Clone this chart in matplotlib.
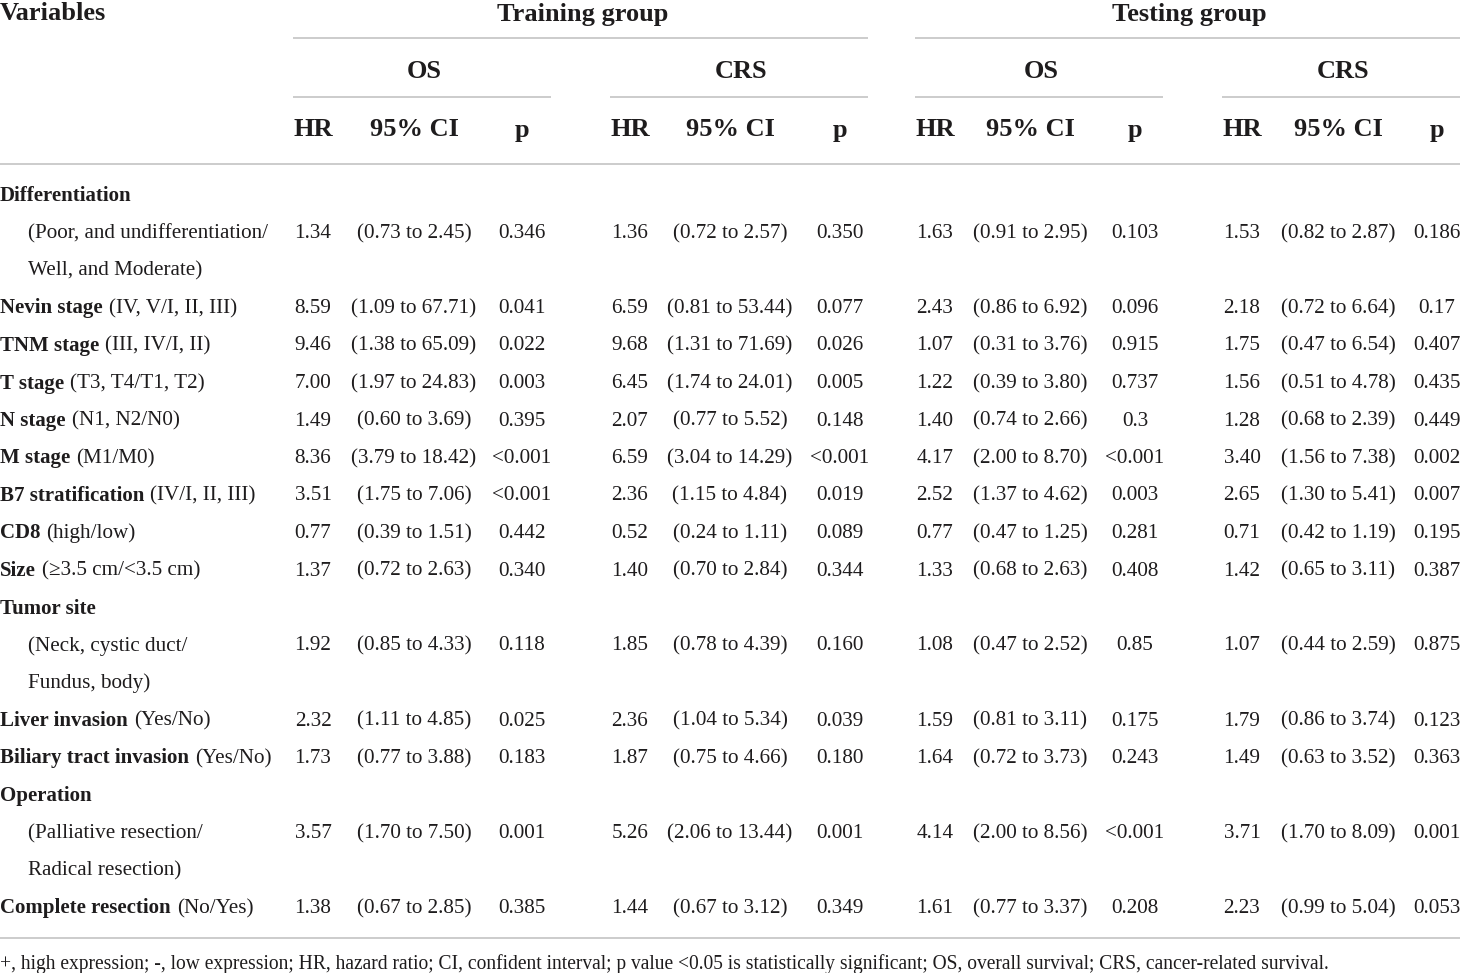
import numpy as np
import matplotlib
matplotlib.use("Agg")
import matplotlib.pyplot as plt

# ---------------- data ----------------
groups = ["Training group", "Testing group"]
outcomes = ["OS", "CRS", "OS", "CRS"]
sub_headers = ["HR", "95% CI", "p"]

# variable label rows: (bold part, normal part, indent)
label_rows = [
    ("Differentiation", "", 0),
    ("", "(Poor, and undifferentiation/", 1),
    ("", "Well, and Moderate)", 1),
    ("Nevin stage", "(IV, V/I, II, III)", 0),
    ("TNM stage", "(III, IV/I, II)", 0),
    ("T stage", "(T3, T4/T1, T2)", 0),
    ("N stage", "(N1, N2/N0)", 0),
    ("M stage", "(M1/M0)", 0),
    ("B7 stratification", "(IV/I, II, III)", 0),
    ("CD8", "(high/low)", 0),
    ("Size", "(\u22653.5 cm/<3.5 cm)", 0),
    ("Tumor site", "", 0),
    ("", "(Neck, cystic duct/", 1),
    ("", "Fundus, body)", 1),
    ("Liver invasion", "(Yes/No)", 0),
    ("Biliary tract invasion", "(Yes/No)", 0),
    ("Operation", "", 0),
    ("", "(Palliative resection/", 1),
    ("", "Radical resection)", 1),
    ("Complete resection", "(No/Yes)", 0),
]

# which label row carries the numbers
value_row_idx = [1, 3, 4, 5, 6, 7, 8, 9, 10, 12, 14, 15, 17, 19]

hr = [
    ["1.34", "1.36", "1.63", "1.53"],
    ["8.59", "6.59", "2.43", "2.18"],
    ["9.46", "9.68", "1.07", "1.75"],
    ["7.00", "6.45", "1.22", "1.56"],
    ["1.49", "2.07", "1.40", "1.28"],
    ["8.36", "6.59", "4.17", "3.40"],
    ["3.51", "2.36", "2.52", "2.65"],
    ["0.77", "0.52", "0.77", "0.71"],
    ["1.37", "1.40", "1.33", "1.42"],
    ["1.92", "1.85", "1.08", "1.07"],
    ["2.32", "2.36", "1.59", "1.79"],
    ["1.73", "1.87", "1.64", "1.49"],
    ["3.57", "5.26", "4.14", "3.71"],
    ["1.38", "1.44", "1.61", "2.23"],
]
ci = [
    ["(0.73 to 2.45)", "(0.72 to 2.57)", "(0.91 to 2.95)", "(0.82 to 2.87)"],
    ["(1.09 to 67.71)", "(0.81 to 53.44)", "(0.86 to 6.92)", "(0.72 to 6.64)"],
    ["(1.38 to 65.09)", "(1.31 to 71.69)", "(0.31 to 3.76)", "(0.47 to 6.54)"],
    ["(1.97 to 24.83)", "(1.74 to 24.01)", "(0.39 to 3.80)", "(0.51 to 4.78)"],
    ["(0.60 to 3.69)", "(0.77 to 5.52)", "(0.74 to 2.66)", "(0.68 to 2.39)"],
    ["(3.79 to 18.42)", "(3.04 to 14.29)", "(2.00 to 8.70)", "(1.56 to 7.38)"],
    ["(1.75 to 7.06)", "(1.15 to 4.84)", "(1.37 to 4.62)", "(1.30 to 5.41)"],
    ["(0.39 to 1.51)", "(0.24 to 1.11)", "(0.47 to 1.25)", "(0.42 to 1.19)"],
    ["(0.72 to 2.63)", "(0.70 to 2.84)", "(0.68 to 2.63)", "(0.65 to 3.11)"],
    ["(0.85 to 4.33)", "(0.78 to 4.39)", "(0.47 to 2.52)", "(0.44 to 2.59)"],
    ["(1.11 to 4.85)", "(1.04 to 5.34)", "(0.81 to 3.11)", "(0.86 to 3.74)"],
    ["(0.77 to 3.88)", "(0.75 to 4.66)", "(0.72 to 3.73)", "(0.63 to 3.52)"],
    ["(1.70 to 7.50)", "(2.06 to 13.44)", "(2.00 to 8.56)", "(1.70 to 8.09)"],
    ["(0.67 to 2.85)", "(0.67 to 3.12)", "(0.77 to 3.37)", "(0.99 to 5.04)"],
]
pval = [
    ["0.346", "0.350", "0.103", "0.186"],
    ["0.041", "0.077", "0.096", "0.17"],
    ["0.022", "0.026", "0.915", "0.407"],
    ["0.003", "0.005", "0.737", "0.435"],
    ["0.395", "0.148", "0.3", "0.449"],
    ["<0.001", "<0.001", "<0.001", "0.002"],
    ["<0.001", "0.019", "0.003", "0.007"],
    ["0.442", "0.089", "0.281", "0.195"],
    ["0.340", "0.344", "0.408", "0.387"],
    ["0.118", "0.160", "0.85", "0.875"],
    ["0.025", "0.039", "0.175", "0.123"],
    ["0.183", "0.180", "0.243", "0.363"],
    ["0.001", "0.001", "<0.001", "0.001"],
    ["0.385", "0.349", "0.208", "0.053"],
]

footnote = ("+, high expression; -, low expression; HR, hazard ratio; CI, confident interval; "
            "p value <0.05 is statistically significant; OS, overall survival; CRS, cancer-related survival.")

# ---------------- layout ----------------
W, H = 1460, 973
txt = "#1e1c1d"
line_c = "#c4c4c4"
font = "Liberation Serif"
fs_head = 19
fs_body = 15.2
fs_label = 15

# column centres for HR / CI / p of each block
col_x = [(313, 414, 522), (630, 730, 840), (935, 1030, 1135), (1242, 1338, 1437)]
block_span = [(293, 551), (610, 868), (915, 1163), (1222, 1460)]
group_span = [(293, 868), (915, 1460)]

row_y0 = 196
row_h = 37.5

fig = plt.figure(figsize=(W / 100, H / 100), dpi=100)
ax = fig.add_axes([0, 0, 1, 1])
ax.set_xlim(0, W)
ax.set_ylim(H, 0)
ax.axis("off")

def hline(x0, x1, y):
    ax.plot([x0, x1], [y, y], color=line_c, lw=1.2, solid_capstyle="butt")

# header
ax.text(0, 14, "Variables", fontsize=fs_head, fontweight="bold", family=font,
        color=txt, ha="left", va="center")
for g, (a, b) in zip(groups, group_span):
    ax.text((a + b) / 2 + 2, 14, g, fontsize=fs_head, fontweight="bold", family=font,
            color=txt, ha="center", va="center")
    hline(a, b, 38)
for o, (a, b) in zip(outcomes, block_span):
    ax.text((a + b) / 2 + 2, 71, o, fontsize=fs_head, fontweight="bold", family=font,
            color=txt, ha="center", va="center")
    hline(a, b, 97)
for cx in col_x:
    for s, x in zip(sub_headers, cx):
        ax.text(x, 130, s, fontsize=fs_head, fontweight="bold", family=font,
                color=txt, ha="center", va="center")
hline(0, W, 164)

# variable labels
fig.canvas.draw()
renderer = fig.canvas.get_renderer()
inv = ax.transData.inverted()
for i, (bold, normal, indent) in enumerate(label_rows):
    y = row_y0 + i * row_h
    x = 28 if indent else 0
    if bold:
        t = ax.text(x, y, bold, fontsize=fs_label, fontweight="bold", family=font,
                    color=txt, ha="left", va="center")
        bb = t.get_window_extent(renderer)
        x = inv.transform((bb.x1, bb.y0))[0] + 6
    if normal:
        ax.text(x, y, normal, fontsize=fs_body, family=font,
                color=txt, ha="left", va="center")

# values
for r, li in enumerate(value_row_idx):
    y = row_y0 + li * row_h
    for b in range(4):
        for val, x in zip((hr[r][b], ci[r][b], pval[r][b]), col_x[b]):
            ax.text(x, y, val, fontsize=fs_body, family=font, color=txt,
                    ha="center", va="center")

hline(0, W, 938)
ax.text(0, 964, footnote, fontsize=14.05, family=font, color=txt,
        ha="left", va="center")

fig.savefig("out.png", dpi=100)
